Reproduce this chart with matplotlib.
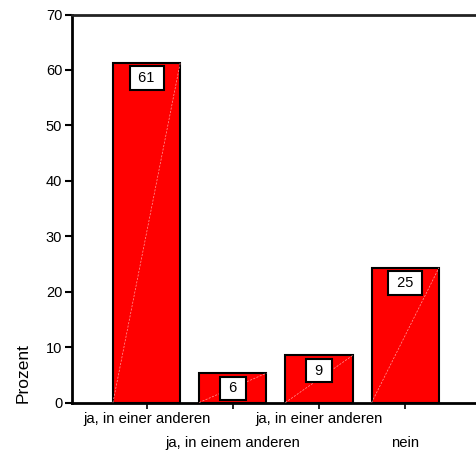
import matplotlib

matplotlib.use("Agg")
import matplotlib.pyplot as plt

# data
categories = [
    "ja, in einer anderen",
    "ja, in einem anderen",
    "ja, in einer anderen",
    "nein",
]
percent = [61.3, 5.3, 8.5, 24.3]
bar_labels = ["61", "6", "9", "25"]
yticks = [0, 10, 20, 30, 40, 50, 60, 70]

plt.rcParams["font.family"] = ["Liberation Sans", "DejaVu Sans"]

fig = plt.figure(figsize=(4.76, 4.54), dpi=100)
ax = fig.add_axes([0.1513, 0.1134, 0.8487, 0.8546])

xs = list(range(len(categories)))
width = 0.78
bars = ax.bar(xs, percent, width=width, color="#ff0000", edgecolor="black", linewidth=1.5, zorder=2)

# faint diagonal from bottom-left to top-right of each bar
for x, h in zip(xs, percent):
    ax.plot([x - width / 2, x + width / 2], [0, h], color="#ffa0a0", lw=0.5,
            ls=(0, (3, 2)), zorder=3)

for x, h, lab in zip(xs, percent, bar_labels):
    ax.annotate(f" {lab} ", xy=(x, h), xytext=(0, -6), textcoords="offset points",
                ha="center", va="top", fontsize=10.5, zorder=5,
                bbox=dict(boxstyle="square,pad=0.32", fc="white", ec="black", lw=1.5))

ax.set_xlim(-0.865, 3.82)
ax.set_ylim(0, 70)
ax.set_yticks(yticks)
ax.set_xticks(xs)
ax.set_xticklabels(categories)
for i, t in enumerate(ax.get_xticklabels()):
    if i % 2 == 1:
        t.set_y(-0.062)

ax.tick_params(axis="y", direction="out", length=5, width=1.5, labelsize=10.5, pad=2)
ax.tick_params(axis="x", direction="out", length=4, width=1.2, labelsize=10.7, pad=3)

ax.spines["right"].set_visible(False)
ax.spines["left"].set_linewidth(2)
ax.spines["bottom"].set_linewidth(2)
ax.spines["top"].set_linewidth(2)
ax.spines["top"].set_color("#222222")

ax.set_ylabel("Prozent", fontsize=12.5, loc="bottom", labelpad=11)

fig.savefig("out.png")
